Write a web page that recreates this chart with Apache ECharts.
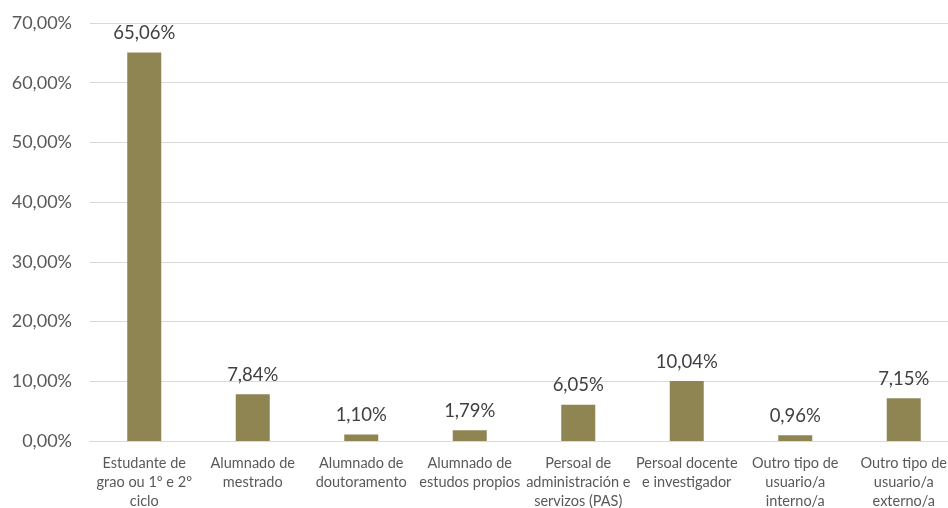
<!DOCTYPE html>
<html>
<head>
<meta charset="utf-8">
<script src="https://cdn.jsdelivr.net/npm/echarts@6/dist/echarts.min.js"></script>
<style>
  html, body { margin: 0; padding: 0; background: #fff; }
  #main { width: 948px; height: 508px; }
</style>
</head>
<body>
<div id="main"></div>
<script>
var categorias = [
    'Estudante de\ngrao ou 1º e 2º\nciclo',
    'Alumnado de\nmestrado',
    'Alumnado de\ndoutoramento',
    'Alumnado de\nestudos propios',
    'Persoal de\nadministración e\nservizos (PAS)',
    'Persoal docente\ne investigador',
    'Outro tipo de\nusuario/a\ninterno/a',
    'Outro tipo de\nusuario/a\nexterno/a'
];
var porcentaxes = [65.06, 7.84, 1.10, 1.79, 6.05, 10.04, 0.96, 7.15];

function fmt(v) {
    return v.toFixed(2).replace('.', ',') + '%';
}

var chart = echarts.init(document.getElementById('main'));

var option = {
    backgroundColor: '#ffffff',
    textStyle: { fontFamily: 'Lato' },
    grid: {
        left: 90,
        width: 868,
        top: 23,
        bottom: 67,
        outerBoundsMode: 'none'
    },
    xAxis: {
        type: 'category',
        data: categorias,
        axisTick: { show: false },
        axisLine: { lineStyle: { color: '#d9d9d9' } },
        axisLabel: {
            color: '#595959',
            fontSize: 14.5,
            lineHeight: 19,
            margin: 13,
            interval: 0
        }
    },
    yAxis: {
        type: 'value',
        min: 0,
        max: 70,
        interval: 10,
        axisLine: { show: false },
        axisTick: { show: false },
        splitLine: { lineStyle: { color: '#d9d9d9' } },
        axisLabel: {
            color: '#595959',
            fontSize: 18,
            margin: 18,
            formatter: function (v) { return fmt(v); }
        }
    },
    series: [{
        type: 'bar',
        data: porcentaxes,
        barWidth: 34,
        itemStyle: { color: '#8e8552' },
        label: {
            show: true,
            position: 'top',
            distance: 10,
            color: '#404040',
            fontSize: 18.5,
            formatter: function (p) { return fmt(p.value); }
        }
    }]
};

chart.setOption(option);
</script>
</body>
</html>
